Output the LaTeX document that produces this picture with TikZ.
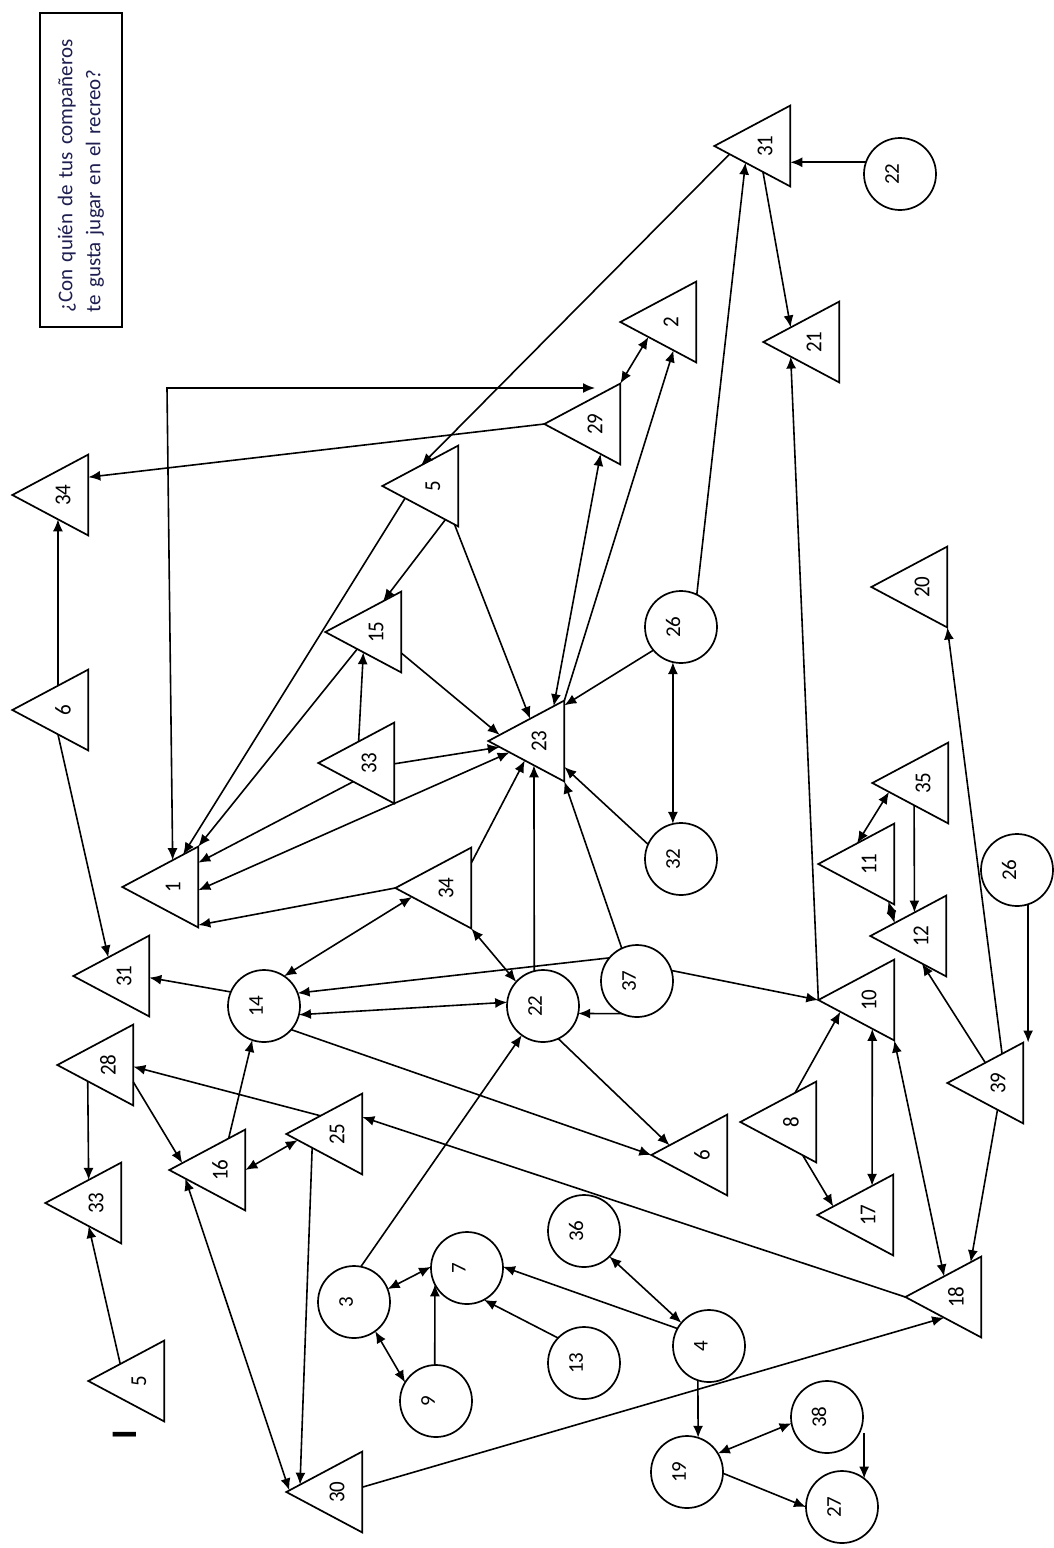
\documentclass[tikz,border=0pt]{standalone}
\usepackage{fontspec}
\setmainfont{Carlito}
\usepackage{graphicx}
\usetikzlibrary{shapes.geometric,arrows.meta,calc}
\definecolor{titlecol}{RGB}{30,30,80}
\newcommand\crot[1]{\rotatebox{90}{\rule[-16pt]{0pt}{16pt}#1}}
\begin{document}
\begin{tikzpicture}[x=1pt,y=-1pt,
  tri/.style={regular polygon, regular polygon sides=3, minimum size=93.5pt, inner sep=0pt, outer sep=0pt, draw, line width=1.7pt, rotate=90, yscale=1.084, font=\fontsize{21}{24}\selectfont},
  circ/.style={circle, minimum size=72pt, inner sep=0pt, outer sep=0pt, draw, line width=1.7pt, font=\fontsize{21}{24}\selectfont},
  link/.style={line width=1.6pt, -{Latex[length=12pt,width=10pt]}},
  blink/.style={line width=1.6pt, {Latex[length=12pt,width=10pt]}-{Latex[length=12pt,width=10pt]}}
]
\useasboundingbox (0,0) rectangle (1054,1548);
\fill[white] (0,0) rectangle (1054,1548);

\node[draw, line width=1.7pt, rotate=90, minimum width=314pt, minimum height=82pt, inner sep=0pt, text width=284pt, align=left, text=titlecol, font=\fontsize{21}{28}\selectfont] (title) at (81,170) {¿Con quién de tus compañeros\\te gusta jugar en el recreo?};
\node[rotate=90, inner sep=0pt, font=\bfseries\fontsize{36}{40}\selectfont] (mk) at (125,1435) {I};

% triangles
\node[tri] (t34a) at (63,495) {34};
\node[tri] (t5) at (433,486) {5};
\node[tri] (t31t) at (765,146) {31};
\node[tri] (t2) at (671,322) {2};
\node[tri] (t21) at (814,342) {21};
\node[tri] (t29) at (595,424) {29};
\node[tri] (t6a) at (63,710) {6};
\node[tri] (t15) at (376,632) {15};
\node[tri] (t33) at (369,763) {33};
\node[tri] (t1) at (173,887) {1};
\node[tri] (t34m) at (446,888) {34};
\node[tri] (t31l) at (124,976) {31};
\node[tri] (t23) at (539,741) {23};
\node[tri] (t20) at (922,587) {20};
\node[tri] (t35) at (923,783) {35};
\node[tri] (t11) at (869,864) {11};
\node[tri] (t12) at (921,936) {12};
\node[tri] (t10) at (869,1000) {10};
\node[tri] (t39) at (998,1083) {39};
\node[tri] (t6b) at (702,1155) {6};
\node[tri] (t8) at (791,1122) {8};
\node[tri] (t17) at (868,1215) {17};
\node[tri] (t18) at (956,1297) {18};
\node[tri] (t28) at (108,1065) {28};
\node[tri] (t33l) at (96,1203) {33};
\node[tri] (t16) at (220,1170) {16};
\node[tri] (t25) at (337,1134) {25};
\node[tri] (t5l) at (139,1381) {5};
\node[tri] (t30) at (337,1492) {30};

% circles
\node[circ] (c22t) at (900,174) {\crot{22}};
\node[circ] (c26) at (681,627) {\crot{26}};
\node[circ] (c32) at (681,859) {\crot{32}};
\node[circ] (c26r) at (1017,870) {\crot{26}};
\node[circ] (c37) at (637,981) {\crot{37}};
\node[circ] (c14) at (264,1006) {\crot{14}};
\node[circ] (c22) at (543,1006) {\crot{22}};
\node[circ] (c36) at (584,1231) {\crot{36}};
\node[circ] (c13) at (584,1363) {\crot{13}};
\node[circ] (c4) at (709,1346) {\crot{4}};
\node[circ] (c38) at (827,1417) {\crot{38}};
\node[circ] (c19) at (687,1472) {\crot{19}};
\node[circ] (c27) at (842,1507) {\crot{27}};
\node[circ] (c3) at (354,1302) {\crot{3}};
\node[circ] (c7) at (467,1268) {\crot{7}};
\node[circ] (c9) at (436,1401) {\crot{9}};

% connectors
\draw[link] (t29.corner 1) -- ($(t34a.corner 3)!0.28!(t34a.corner 2)$);
\draw[link] ($(t31t.corner 1)!0.2!(t31t.corner 2)$) -- ($(t5.corner 1)!0.51!(t5.corner 3)$);
\coordinate (k1) at (167,388);
\draw[blink] (t1) -- (k1) -- (k1 -| t29);
\draw[link] ($(t5.corner 1)!0.3!(t5.corner 2)$) -- ($(t1.corner 1)!0.8!(t1.corner 3)$);
\draw[link] ($(t5.corner 1)!0.83!(t5.corner 2)$) -- ($(t15.corner 1)!0.76!(t15.corner 3)$);
\draw[link] ($(t5.corner 1)!0.95!(t5.corner 2)$) -- ($(t23.corner 1)!0.55!(t23.corner 3)$);
\draw[link] ($(t15.corner 1)!0.42!(t15.corner 2)$) -- (t1.corner 3);
\draw[link] ($(t15.corner 3)!0.76!(t15.corner 2)$) -- ($(t23.corner 1)!0.15!(t23.corner 3)$);
\draw[link] ($(t33.corner 1)!0.53!(t33.corner 3)$) -- ($(t15.corner 1)!0.5!(t15.corner 2)$);
\draw[link] ($(t33.corner 3)!0.51!(t33.corner 2)$) -- ($(t23.corner 1)!0.15!(t23.corner 2)$);
\draw[link] ($(t33.corner 1)!0.46!(t33.corner 2)$) -- ($(t1.corner 3)!0.2!(t1.corner 2)$);
\draw[blink] ($(t1.corner 3)!0.54!(t1.corner 2)$) -- ($(t23.corner 1)!0.28!(t23.corner 2)$);
\draw[link] (t34m.corner 1) -- ($(t1.corner 3)!0.97!(t1.corner 2)$);
\draw[link] ($(t34m.corner 3)!0.19!(t34m.corner 2)$) -- ($(t23.corner 1)!0.48!(t23.corner 2)$);
\draw[blink] ($(t34m.corner 1)!0.22!(t34m.corner 2)$) -- (c14.56);
\draw[link] ($(t6a.corner 1)!0.6!(t6a.corner 3)$) -- ($(t34a.corner 1)!0.6!(t34a.corner 2)$);
\draw[link] ($(t6a.corner 1)!0.6!(t6a.corner 2)$) -- ($(t31l.corner 1)!0.46!(t31l.corner 3)$);
\draw[link] (c14.157) -- ($(t31l.corner 3)!0.52!(t31l.corner 2)$);
\draw[link] (c37.140) -- (c14.21);
\draw[blink] (c14.-14) -- (c22.174);
\draw[blink] (t34m.corner 2) -- (c22.138);
\draw[link] (c22.104) -- ($(t23.corner 1)!0.6!(t23.corner 2)$);
\draw[link] (c37.245) -- (c22.-12);
\draw[link] (c37.115) -- (t23.corner 2);
\draw[link] (c32.156) -- ($(t23.corner 3)!0.82!(t23.corner 2)$);
\draw[link] (c26.220) -- ($(t23.corner 3)!0.06!(t23.corner 2)$);
\draw[blink] (c26.-103) -- (c32.103);
\draw[blink] ($(t23.corner 1)!0.86!(t23.corner 3)$) -- ($(t29.corner 1)!0.74!(t29.corner 2)$);
\draw[link] (t23.corner 3) -- ($(t2.corner 1)!0.7!(t2.corner 2)$);
\draw[blink] (t29.corner 3) -- ($(t2.corner 1)!0.37!(t2.corner 2)$);
\draw[link] (c26.64) -- ($(t31t.corner 1)!0.41!(t31t.corner 2)$);
\draw[link] ($(t31t.corner 1)!0.64!(t31t.corner 2)$) -- ($(t21.corner 1)!0.36!(t21.corner 3)$);
\draw[link] (t10.corner 1) -- ($(t21.corner 1)!0.36!(t21.corner 2)$);
\draw[link] (c37.17) -- (t10.corner 1);
\draw[blink] ($(t35.corner 1)!0.22!(t35.corner 2)$) -- ($(t11.corner 1)!0.51!(t11.corner 3)$);
\draw[link] ($(t35.corner 1)!0.55!(t35.corner 2)$) -- ($(t12.corner 1)!0.58!(t12.corner 3)$);
\draw[blink] ($(t11.corner 1)!0.92!(t11.corner 2)$) -- ($(t12.corner 1)!0.32!(t12.corner 3)$);
\draw[link] ($(t39.corner 1)!0.5!(t39.corner 3)$) -- ($(t12.corner 1)!0.68!(t12.corner 2)$);
\draw[link] ($(t39.corner 1)!0.72!(t39.corner 3)$) -- (t20.corner 2);
\draw[link] (c26r.-72) -- (c26r.-72 |- t39.corner 3);
\draw[link] ($(t8.corner 1)!0.72!(t8.corner 3)$) -- ($(t10.corner 1)!0.29!(t10.corner 2)$);
\draw[link] ($(t8.corner 1)!0.82!(t8.corner 2)$) -- ($(t17.corner 1)!0.21!(t17.corner 3)$);
\draw[blink] ($(t10.corner 1)!0.71!(t10.corner 2)$) -- ($(t17.corner 1)!0.72!(t17.corner 3)$);
\draw[blink] (t10.corner 2) -- ($(t18.corner 1)!0.51!(t18.corner 3)$);
\draw[link] ($(t39.corner 1)!0.66!(t39.corner 2)$) -- ($(t18.corner 1)!0.86!(t18.corner 3)$);
\draw[link] (c22.-65) -- ($(t6b.corner 1)!0.24!(t6b.corner 3)$);
\draw[link] (c14.-41) -- (t6b.corner 1);
\draw[link] ($(t25.corner 1)!0.45!(t25.corner 3)$) -- ($(t28.corner 3)!0.52!(t28.corner 2)$);
\draw[link] (t18.corner 1) -- ($(t25.corner 3)!0.29!(t25.corner 2)$);
\draw[link] ($(t30.corner 3)!0.44!(t30.corner 2)$) -- ($(t18.corner 1)!0.51!(t18.corner 2)$);
\draw[link] (c4.151) -- (c7.2);
\draw[blink] (c36.-45) -- (c4.140);
\draw[link] (c13.136) -- (c7.-62);
\draw[link] (c4.252) -- (c19.72);
\draw[blink] (c38.190) -- (c19.31);
\draw[link] (c19.-2) -- (c27.180);
\draw[link] (c27.52 |- c38.-26) -- (c27.52);
\draw[link] ($(t28.corner 1)!0.4!(t28.corner 2)$) -- ($(t33l.corner 1)!0.57!(t33l.corner 3)$);
\draw[link] ($(t28.corner 3)!0.71!(t28.corner 2)$) -- ($(t16.corner 1)!0.17!(t16.corner 3)$);
\draw[link] ($(t16.corner 1)!0.78!(t16.corner 3)$) -- (c14.251);
\draw[blink] ($(t16.corner 3)!0.5!(t16.corner 2)$) -- ($(t25.corner 1)!0.15!(t25.corner 2)$);
\draw[blink] ($(t16.corner 1)!0.21!(t16.corner 2)$) -- ($(t30.corner 1)!0.04!(t30.corner 3)$);
\draw[link] ($(t25.corner 1)!0.34!(t25.corner 2)$) -- ($(t30.corner 1)!0.18!(t30.corner 3)$);
\draw[link] (c3.79) -- (c22.234);
\draw[blink] (c3.21) -- (c7.178);
\draw[blink] (c3.-54) -- (c9.149);
\draw[link] (c9.92) -- (c7.207);
\draw[link] (c22t.161) -- (c22t.161 -| t31t.corner 3);
\draw[link] ($(t5l.corner 1)!0.42!(t5l.corner 3)$) -- ($(t33l.corner 1)!0.57!(t33l.corner 2)$);
\end{tikzpicture}
\end{document}
